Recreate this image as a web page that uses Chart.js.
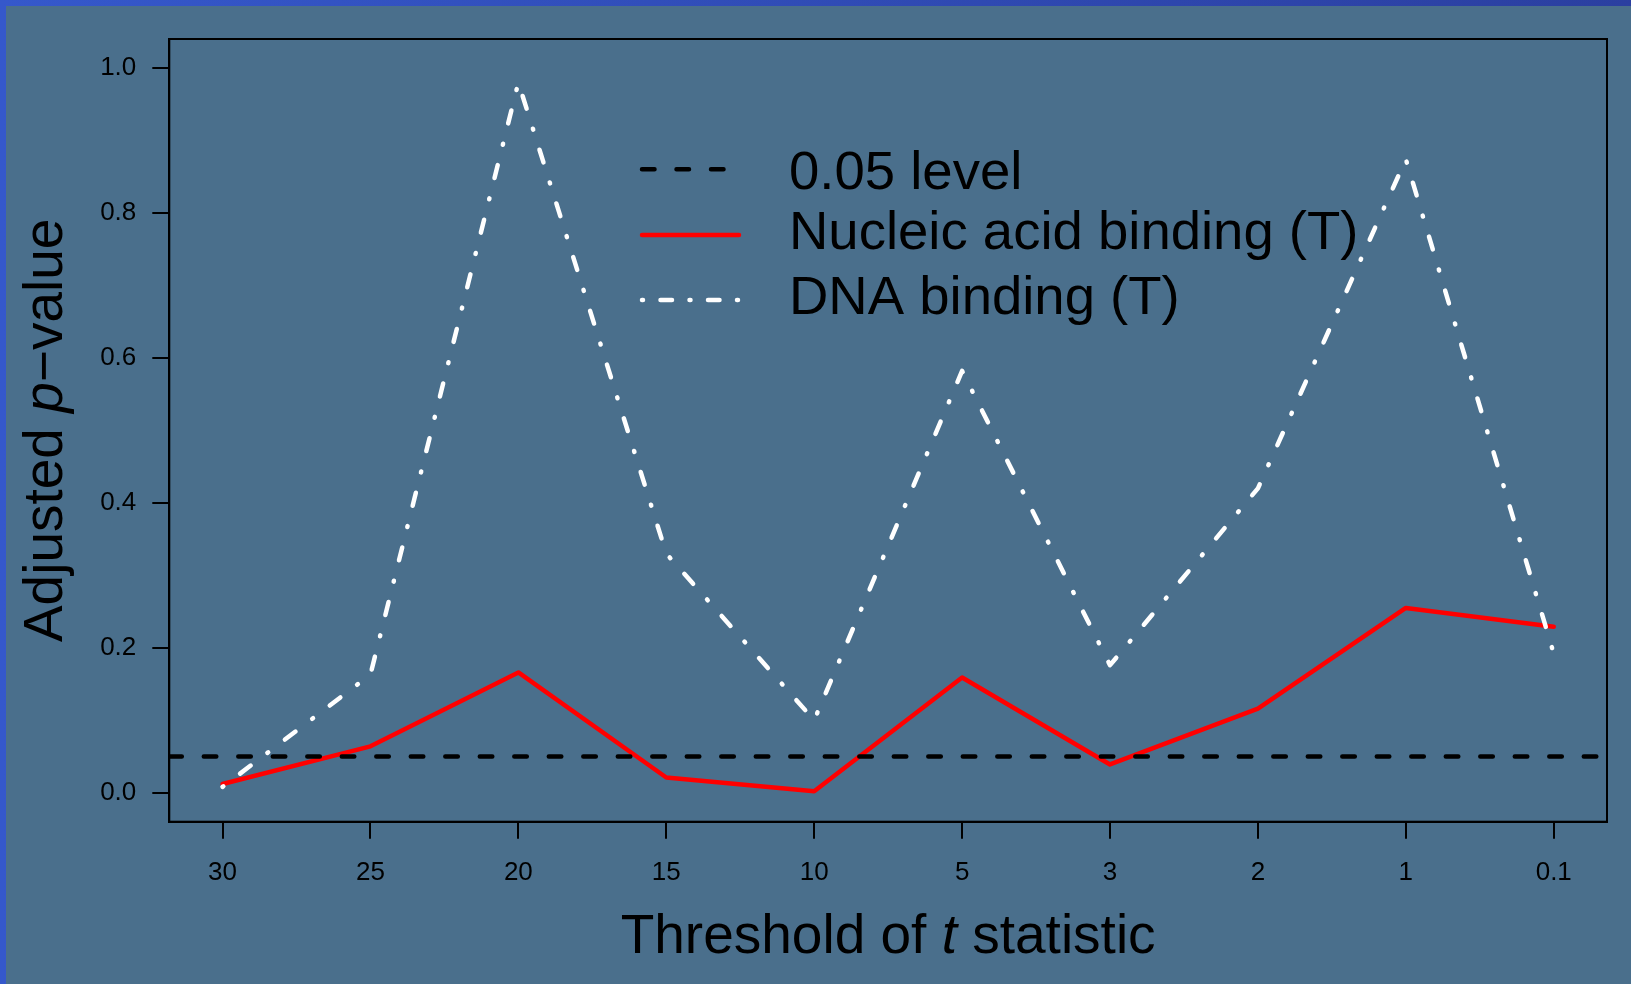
<!DOCTYPE html>
<html>
<head>
<meta charset="utf-8">
<script src="https://cdn.jsdelivr.net/npm/chart.js@4.4.1/dist/chart.umd.min.js"></script>
<style>
  html, body { margin: 0; padding: 0; overflow: hidden; }
  #moldura {
    width: 1631px; height: 984px; box-sizing: border-box;
    padding: 6px 0 0 6px;
    background: linear-gradient(90deg, #3558cb 0%, #2b3fa0 100%);
  }
  #graficoPvalor { display: block; background: #4a6f8c; }
</style>
</head>
<body>
<div id="moldura"><canvas id="graficoPvalor" width="1625" height="978"></canvas></div>
<script>
// dados
var limiares = ['30', '25', '20', '15', '10', '5', '3', '2', '1', '0.1'];
var nucleico = [0.012, 0.064, 0.166, 0.021, 0.002, 0.159, 0.039, 0.116, 0.255, 0.229];
var dnaBinding = [0.008, 0.163, 0.98, 0.33, 0.10, 0.582, 0.176, 0.42, 0.874, 0.192];
var nivel = 0.05;
var yTicks = [0, 0.2, 0.4, 0.6, 0.8, 1.0];

var xMin = -0.36, xMax = 9.36;
var yMin = -0.04, yMax = 1.04;
var FONTE = "'Liberation Sans', Arial, Helvetica, sans-serif";

function pontos(valores) {
    return valores.map(function (v, i) { return { x: i, y: v }; });
}

function desenhaMisto(ctx, partes, tamanho) {
    // partes: [texto, italico]; desenha centrado em 0
    var total = 0;
    partes.forEach(function (p) {
        ctx.font = (p[1] ? 'italic ' : '') + tamanho + 'px ' + FONTE;
        total += ctx.measureText(p[0]).width;
    });
    var x = -total / 2;
    partes.forEach(function (p) {
        ctx.font = (p[1] ? 'italic ' : '') + tamanho + 'px ' + FONTE;
        ctx.fillText(p[0], x, 0);
        x += ctx.measureText(p[0]).width;
    });
}

var extras = {
    id: 'extras',
    afterDraw: function (chart) {
        var ctx = chart.ctx;
        var area = chart.chartArea;
        ctx.save();
        // caixa
        ctx.strokeStyle = '#000';
        ctx.lineWidth = 2;
        ctx.strokeRect(area.left, area.top, area.right - area.left, area.bottom - area.top);

        ctx.fillStyle = '#000';
        ctx.textAlign = 'left';
        ctx.textBaseline = 'alphabetic';

        // titulo eixo x
        ctx.save();
        ctx.translate((area.left + area.right) / 2, 946.7);
        desenhaMisto(ctx, [['Threshold of ', false], ['t', true], [' statistic', false]], 55);
        ctx.restore();

        // titulo eixo y
        ctx.save();
        ctx.translate(55.7, (area.top + area.bottom) / 2);
        ctx.rotate(-Math.PI / 2);
        desenhaMisto(ctx, [['Adjusted ', false], ['p', true], ['\u2212value', false]], 55);
        ctx.restore();

        // legenda
        var itens = [
            { texto: '0.05 level', cor: '#000', dash: [12.5, 22], yl: 163.3, yt: 183.3 },
            { texto: 'Nucleic acid binding (T)', cor: '#ff0000', dash: [], yl: 229, yt: 243 },
            { texto: 'DNA binding (T)', cor: '#fff', dash: [1, 17.5, 11.5, 17.5], yl: 294, yt: 308 }
        ];
        ctx.lineCap = 'round';
        ctx.lineWidth = 4.5;
        itens.forEach(function (it) {
            ctx.strokeStyle = it.cor;
            ctx.setLineDash(it.dash);
            ctx.beginPath();
            ctx.moveTo(636, it.yl);
            ctx.lineTo(733, it.yl);
            ctx.stroke();
            ctx.font = '54.5px ' + FONTE;
            ctx.fillText(it.texto, 783, it.yt);
        });
        ctx.restore();
    }
};

var canvas = document.getElementById('graficoPvalor');
var ctx = canvas.getContext('2d');
var grafico = new Chart(ctx, {
    type: 'line',
    data: {
        datasets: [
            {
                label: '0.05 level',
                data: [{ x: xMin, y: nivel }, { x: xMax, y: nivel }],
                borderColor: '#000000',
                borderWidth: 4.5,
                borderDash: [12.5, 22],
                borderCapStyle: 'round',
                pointRadius: 0,
                order: 0
            },
            {
                label: 'DNA binding (T)',
                data: pontos(dnaBinding),
                borderColor: '#ffffff',
                borderWidth: 4.5,
                borderDash: [1, 21, 13.3, 21],
                borderCapStyle: 'round',
                borderJoinStyle: 'round',
                pointRadius: 0,
                order: 1
            },
            {
                label: 'Nucleic acid binding (T)',
                data: pontos(nucleico),
                borderColor: '#ff0000',
                borderWidth: 4.5,
                borderCapStyle: 'round',
                borderJoinStyle: 'round',
                pointRadius: 0,
                order: 2
            }
        ]
    },
    options: {
        responsive: false,
        animation: false,
        layout: { padding: { top: 33, right: 24, left: 0, bottom: 0 } },
        plugins: {
            legend: { display: false },
            tooltip: { enabled: false }
        },
        scales: {
            x: {
                type: 'linear',
                min: xMin,
                max: xMax,
                afterBuildTicks: function (scale) {
                    scale.ticks = limiares.map(function (_, i) { return { value: i }; });
                },
                afterFit: function (scale) { scale.height = 162.3; },
                ticks: {
                    autoSkip: false,
                    maxRotation: 0,
                    padding: 19,
                    color: '#000',
                    font: { family: FONTE, size: 26 },
                    callback: function (v) { return limiares[v]; }
                },
                grid: { drawOnChartArea: false, drawTicks: true, tickLength: 17, color: '#000', lineWidth: 2 },
                border: { display: true, color: '#000', width: 2 }
            },
            y: {
                min: yMin,
                max: yMax,
                afterBuildTicks: function (scale) {
                    scale.ticks = yTicks.map(function (v) { return { value: v }; });
                },
                afterFit: function (scale) { scale.width = 163.3; },
                ticks: {
                    padding: 16,
                    color: '#000',
                    font: { family: FONTE, size: 26 },
                    callback: function (v) { return v.toFixed(1); }
                },
                grid: { drawOnChartArea: false, drawTicks: true, tickLength: 17, color: '#000', lineWidth: 2 },
                border: { display: true, color: '#000', width: 2 }
            }
        }
    },
    plugins: [extras]
});
</script>
</body>
</html>
